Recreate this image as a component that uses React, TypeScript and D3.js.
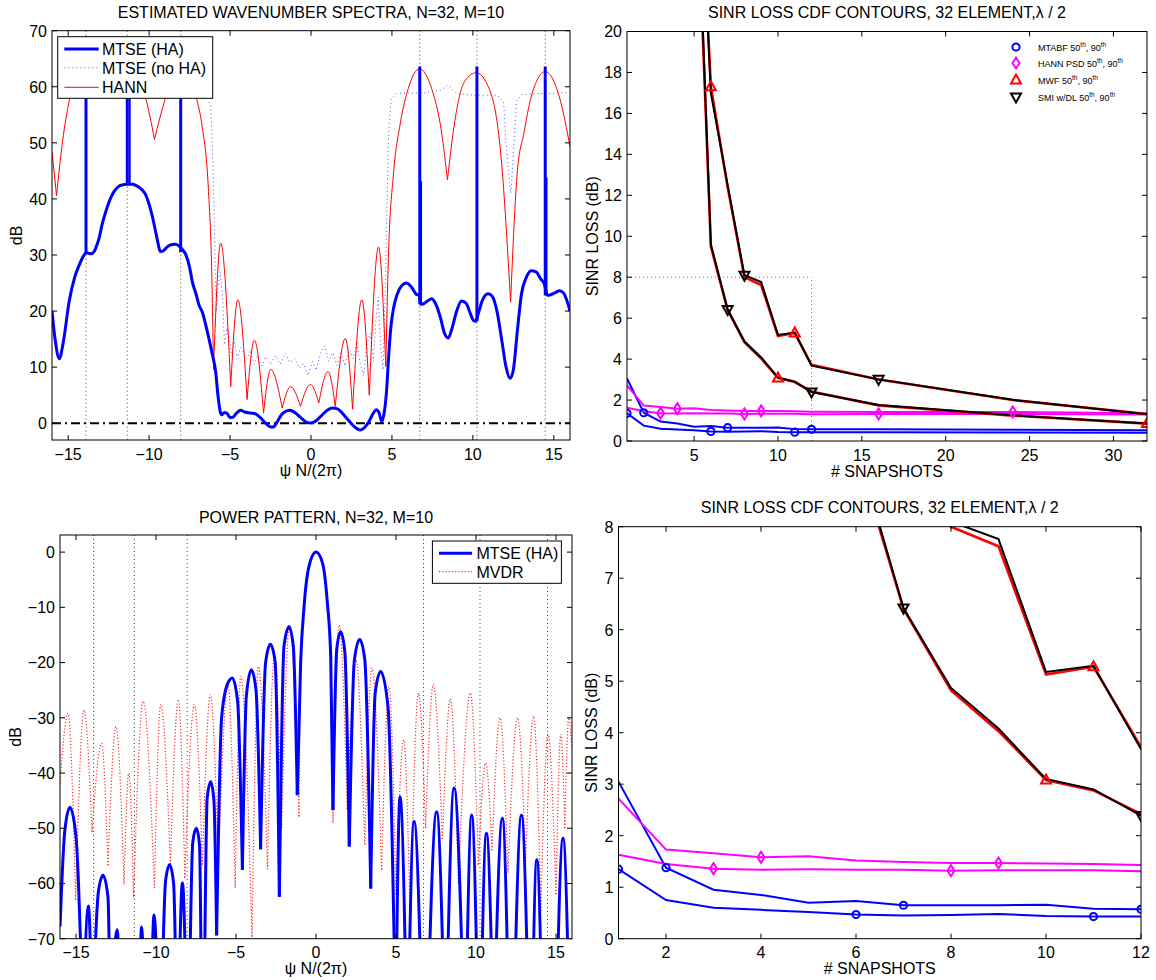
import React from "react";
import * as d3 from "d3";

type Pt = [number, number];

// ================= ESTIMATED WAVENUMBER SPECTRA =================
const spectrumMtseHA: Pt[] = [
  [-16, 20], [-15.8, 14.8], [-15.55, 11.5], [-15.3, 14.5], [-14.94, 21.7], [-14.6, 26.0],
  [-14.32, 28.2], [-14.1, 29.6], [-13.93, 30.3], [-13.85, 30.4], [-13.6, 30.2], [-13.4, 30.6],
  [-13.25, 31.6], [-13.09, 33.0], [-12.9, 35.5], [-12.68, 37.7], [-12.4, 40.0], [-12.17, 41.3],
  [-11.9, 42.2], [-11.65, 42.5], [-11.4, 42.6], [-11.0, 42.6], [-10.83, 42.4], [-10.5, 41.8],
  [-10.21, 40.7], [-10.0, 39.0], [-9.8, 36.9], [-9.55, 33.5], [-9.29, 30.6], [-9.1, 30.8],
  [-8.9, 31.4], [-8.67, 31.8], [-8.4, 31.9], [-8.15, 31.6], [-7.95, 31.0], [-7.74, 30.1],
  [-7.5, 27.8], [-7.33, 25.2], [-7.1, 23.0], [-6.92, 21.1], [-6.7, 19.7], [-6.5, 17.5],
  [-6.3, 15.0], [-6.09, 12.2], [-5.89, 9.2], [-5.75, 5.0], [-5.6, 2.0], [-5.5, 1.5],
  [-5.35, 1.9], [-5.2, 1.8], [-5.0, 1.0], [-4.86, 1.0], [-4.6, 1.8], [-4.35, 2.3],
  [-4.1, 2.0], [-3.72, 1.8], [-3.4, 1.6], [-3.1, 0.9], [-2.8, 0.0], [-2.55, -0.6],
  [-2.35, -0.7], [-2.1, 0.2], [-1.8, 1.6], [-1.5, 2.2], [-1.3, 2.3], [-1.0, 1.9],
  [-0.6, 0.9], [-0.2, 0.1], [0.0, 0.05], [0.3, 0.4], [0.7, 1.5], [1.0, 2.3], [1.3, 2.7],
  [1.6, 2.6], [1.9, 1.9], [2.2, 0.9], [2.5, -0.1], [2.8, -0.9], [3.04, -1.2], [3.3, -0.8],
  [3.6, 0.4], [3.85, 1.8], [4.03, 2.4], [4.2, 1.9], [4.37, 0.3], [4.5, 1.5], [4.66, 5.5],
  [4.8, 12.0], [4.93, 17.0], [5.1, 20.5], [5.3, 22.8], [5.6, 24.5], [5.91, 25.0], [6.2, 24.3],
  [6.5, 23.0], [6.68, 22.8], [6.78, 21.2], [6.95, 21.3], [7.2, 21.8], [7.45, 22.2], [7.7, 21.3],
  [8.0, 18.8], [8.25, 16.0], [8.48, 15.2], [8.7, 16.8], [9.0, 20.0], [9.3, 21.8], [9.6, 21.3],
  [9.85, 19.5], [10.05, 18.3], [10.2, 18.2], [10.32, 19.4], [10.6, 22.0], [10.94, 23.1],
  [11.2, 22.6], [11.5, 19.8], [11.8, 14.5], [12.05, 10.0], [12.3, 8.0], [12.5, 9.5],
  [12.75, 16.5], [13.0, 23.0], [13.3, 26.0], [13.6, 27.2], [13.9, 27.0], [14.2, 25.7],
  [14.42, 24.8], [14.6, 22.8], [14.8, 22.9], [15.1, 23.3], [15.35, 23.6], [15.6, 23.2],
  [15.85, 21.5], [16.0, 20.0],
];
const spectrumSpikePsi = [-13.9, -11.35, -8.05, 6.72, 10.25, 14.47];
const spectrumSpikeBase = [30.3, 42.6, 30.5, 21.2, 18.2, 22.8];
const spectrumSpikeTop = [63.6, 63.6, 63.6, 63.6, 63.6, 63.6];
const spectrumSubSpikePsi = [-11.2, 6.8, 14.55];
const spectrumSubSpikeBase = [42.6, 21.2, 22.8];
const spectrumSubSpikeTop = [60, 43.2, 43.8];

const spectrumMtseNoHA: Pt[] = [
  [-16, 60.3], [-15.6, 60.0], [-14, 60.5], [-12, 60.0], [-10, 60.2], [-8, 60.0], [-6.6, 59.0],
  [-6.2, 56.7], [-6.1, 50], [-6.0, 40], [-5.92, 28], [-5.85, 20], [-5.75, 24], [-5.6, 27],
  [-5.45, 22], [-5.35, 14], [-5.2, 17], [-5.05, 15], [-4.9, 12], [-4.75, 15], [-4.55, 11.5],
  [-4.35, 13.5], [-4.15, 12.5], [-3.95, 11.5], [-3.75, 13], [-3.5, 10.5], [-3.3, 12],
  [-3.05, 10.2], [-2.8, 11.8], [-2.5, 10.5], [-2.2, 12.1], [-1.9, 10.5], [-1.6, 12.5],
  [-1.3, 10.8], [-1.0, 11.5], [-0.7, 9.8], [-0.45, 10.6], [-0.2, 8.5], [0.1, 11], [0.3, 9.4],
  [0.6, 12.5], [0.85, 13.8], [1.1, 11], [1.35, 12.6], [1.6, 10.3], [1.85, 12.8], [2.1, 10.2],
  [2.35, 13.5], [2.6, 11.5], [2.85, 14.2], [3.05, 10.5], [3.25, 8.5], [3.45, 14.0], [3.65, 16],
  [3.85, 11], [4.0, 18], [4.15, 22.5], [4.3, 14], [4.45, 9.5], [4.6, 25], [4.7, 40], [4.8, 52],
  [4.95, 57.8], [5.3, 58.8], [6, 58.9], [7, 58.9], [8, 59.4], [8.47, 60.3], [9.0, 58.8],
  [10, 58.5], [11.5, 58.5], [11.9, 57.3], [12.05, 50], [12.2, 45], [12.35, 41], [12.5, 48],
  [12.7, 57.5], [13.0, 58.6], [14, 58.8], [15, 58.8], [16, 59.0],
];

const spectrumHann: Pt[] = [
  [-16, 48.4], [-15.72, 40.6], [-15.35, 50.2], [-14.94, 57.4], [-14.45, 61.8], [-13.9, 63.0],
  [-13.3, 61.6], [-12.6, 59.8], [-11.95, 62.2], [-11.35, 63.0], [-10.8, 61.6], [-10.21, 57.9],
  [-9.67, 50.6], [-9.0, 57.9], [-8.5, 62.0], [-8.05, 63.0], [-7.5, 61.5], [-7.05, 57.7],
  [-6.74, 53.2], [-6.33, 41.3], [-6.15, 29.0], [-6.02, 9.6], [-5.58, 32.1], [-4.96, 6.5],
  [-4.52, 22.0], [-3.95, 4.2], [-3.5, 14.8], [-2.93, 1.8], [-2.49, 9.6], [-1.78, 2.7],
  [-1.26, 6.5], [-0.65, 3.0], [-0.03, 6.9], [0.48, 3.6], [1.05, 9.2], [1.5, 3.0], [2.12, 15.1],
  [2.57, 2.5], [3.14, 22.0], [3.6, 5.0], [4.17, 31.4], [4.62, 10.1], [4.78, 29.4], [5.09, 44.3],
  [5.5, 53.2], [6.01, 59.7], [6.7, 63.2], [7.45, 59.7], [8.06, 52.0], [8.43, 43.4], [8.88, 53.8],
  [9.5, 61.0], [10.21, 62.5], [11.14, 58.6], [11.75, 47.2], [12.33, 21.6], [12.75, 45.0],
  [13.15, 51.7], [13.6, 58.2], [14.47, 62.7], [15.4, 57.6], [16.0, 49.3],
];

const interfererPsi = [-13.9, -11.35, -8.05, 6.72, 10.25, 14.47];
const noiseFloorDb = 0;
const spectrumLegend = ["MTSE (HA)", "MTSE (no HA)", "HANN"];

// ================= POWER PATTERN =================
const patternMtseHA: Pt[] = [
  [-16, -67.8], [-15.7, -50.5], [-15.38, -46.2], [-15.0, -51.5], [-14.56, -86],
  [-14.23, -64.1], [-13.98, -86],
  [-13.6, -61.5], [-13.31, -58.5], [-13.0, -62.5], [-12.86, -86],
  [-12.42, -68.4], [-12.24, -86],
  [-11.65, -76], [-11.07, -86],
  [-10.9, -67.9], [-10.71, -86],
  [-10.52, -78], [-10.33, -86],
  [-10.12, -65.7], [-9.85, -86],
  [-9.76, -80], [-9.67, -86],
  [-9.4, -59.5], [-9.15, -56.6], [-8.9, -60], [-8.71, -86],
  [-8.65, -80], [-8.6, -86],
  [-8.35, -59.9], [-8.08, -86],
  [-8.01, -80], [-7.94, -86],
  [-7.7, -52.5], [-7.48, -50], [-7.28, -53], [-7.15, -86],
  [-7.08, -80], [-7.0, -86],
  [-6.8, -44.5], [-6.58, -41.6], [-6.38, -45], [-6.21, -69.4],
  [-5.9, -30], [-5.55, -24], [-5.23, -22.8], [-4.9, -27], [-4.6, -57.5],
  [-4.35, -26], [-4.04, -21.3], [-3.75, -25], [-3.46, -53.8],
  [-3.15, -20], [-2.85, -16.7], [-2.55, -20], [-2.29, -62.4],
  [-2.0, -17], [-1.69, -13.5], [-1.42, -17], [-1.17, -44],
  [-0.96, -20], [-0.75, -10], [-0.44, -2.6], [0, 0], [0.4, -1.9], [0.71, -9.2], [0.92, -19],
  [1.06, -46.7],
  [1.3, -17.5], [1.54, -14.4], [1.8, -18], [2.08, -53.3],
  [2.4, -19.5], [2.73, -15.8], [3.05, -19.5], [3.42, -60.9],
  [3.7, -25.5], [4.04, -21.6], [4.5, -28], [4.98, -86],
  [5.25, -44.3], [5.67, -86],
  [5.71, -80], [5.75, -86],
  [6.13, -48.8], [6.64, -86],
  [6.8, -80], [6.96, -86],
  [7.54, -47], [8.04, -86],
  [8.09, -80], [8.14, -86],
  [8.63, -42.7], [9.25, -86],
  [9.3, -80], [9.36, -86],
  [9.73, -47.6], [10.13, -86],
  [10.21, -80], [10.29, -86],
  [10.65, -50.9], [11.08, -86],
  [11.1, -80], [11.13, -86],
  [11.65, -48.2], [12.06, -86],
  [12.2, -80], [12.35, -86],
  [12.84, -47.6], [13.3, -86],
  [13.4, -80], [13.5, -86],
  [13.8, -55.7], [14.15, -86],
  [14.6, -76], [15.0, -86],
  [15.44, -51.8], [15.85, -86],
  [16.0, -74],
];

const patternMvdr: Pt[] = [
  [-16, -42], [-15.5, -29.2], [-15.02, -63], [-14.5, -28.6], [-14.0, -50.7], [-13.4, -34.6],
  [-13.0, -56.7], [-12.5, -31.6], [-12.0, -60.2], [-11.7, -40], [-11.4, -62.6], [-10.8, -27],
  [-10.1, -60.8], [-9.7, -27.6], [-9.1, -56.6], [-8.6, -26.7], [-8.2, -59], [-7.6, -27.6],
  [-7.1, -56.6], [-6.6, -25.8], [-6.1, -56.6], [-5.5, -24], [-5.05, -60.8], [-4.7, -22.5],
  [-4.0, -69.7], [-3.6, -20.7], [-3.03, -57.4], [-2.6, -18.5], [-2.15, -50], [-1.65, -13.2],
  [-1.06, -47.9], [-0.96, -21], [-0.75, -10.5], [-0.44, -2.8], [0, 0], [0.4, -2.0],
  [0.71, -9.5], [0.95, -22], [1.06, -49], [1.45, -13.2], [1.95, -46.5], [2.5, -19.5],
  [3.05, -53], [3.5, -21], [4.1, -57.5], [4.56, -24.3], [5.0, -62], [5.48, -34], [5.9, -68],
  [6.4, -25.5], [6.85, -50], [7.33, -24], [7.9, -52], [8.4, -26.6], [8.9, -60], [9.65, -25.5],
  [10.15, -56.6], [10.6, -38.2], [11.0, -54], [11.5, -30], [12.0, -58], [12.6, -30],
  [13.1, -56], [13.6, -29.7], [14.05, -65], [14.5, -33], [15.0, -62], [15.3, -33],
  [15.55, -50], [15.8, -30], [16, -36],
];
const patternLegend = ["MTSE (HA)", "MVDR"];

// ================= SINR LOSS CDF CONTOURS =================
const snapshots = [1, 2, 3, 4, 5, 6, 7, 8, 9, 10, 11, 12, 16, 24, 32];
const mtabf50 = [1.35, 0.75, 0.6, 0.56, 0.52, 0.47, 0.45, 0.46, 0.48, 0.44, 0.43, 0.43, 0.43, 0.42, 0.4];
const mtabf90 = [3.05, 1.38, 0.95, 0.85, 0.7, 0.73, 0.65, 0.65, 0.65, 0.66, 0.58, 0.57, 0.57, 0.55, 0.52];
const hann50 = [1.63, 1.45, 1.36, 1.34, 1.35, 1.34, 1.34, 1.32, 1.33, 1.33, 1.33, 1.31, 1.32, 1.32, 1.3];
const hann90 = [2.72, 1.73, 1.66, 1.58, 1.6, 1.52, 1.49, 1.47, 1.47, 1.46, 1.45, 1.43, 1.42, 1.42, 1.36];
const adaptiveSnapshots = [5, 6, 7, 8, 9, 10, 11, 12, 16, 24, 32];
const mwf50 = [31, 9.5, 6.4, 4.82, 4.03, 3.08, 2.88, 2.42, 1.74, 1.24, 0.85];
const smi50 = [31.5, 9.6, 6.42, 4.87, 4.08, 3.1, 2.9, 2.39, 1.76, 1.26, 0.86];
const mwf90 = [34, 17.3, 12.4, 8.0, 7.62, 5.13, 5.28, 3.72, 3.0, 2.0, 1.32];
const smi90 = [34.5, 17.0, 12.5, 8.1, 7.76, 5.18, 5.3, 3.68, 3.01, 2.01, 1.31];
const mtabf50Marks = [1, 6, 11];
const mtabf90Marks = [2, 7, 12];
const hann50Marks = [3, 8, 16];
const hann90Marks = [4, 9, 24];
const mwf50Marks = [5, 10, 32];
const mwf90Marks = [6, 11];
const smi50Marks = [7, 12];
const smi90Marks = [8, 16];
const zoomBoxSnap = 12;
const zoomBoxLoss = 8;
const sinrLegend = ["MTABF", "HANN PSD", "MWF", "SMI w/DL"];

// ticks
const psiTicks = [-15, -10, -5, 0, 5, 10, 15];
const spectrumDbTicks = [0, 10, 20, 30, 40, 50, 60, 70];
const patternDbTicks = [-70, -60, -50, -40, -30, -20, -10, 0];
const snapTicksWide = [5, 10, 15, 20, 25, 30];
const lossTicksWide = [0, 2, 4, 6, 8, 10, 12, 14, 16, 18, 20];
const snapTicksZoom = [2, 4, 6, 8, 10, 12];
const lossTicksZoom = [0, 1, 2, 3, 4, 5, 6, 7, 8];

// ================= layout / style =================
const FONT = "'Liberation Sans', Arial, Helvetica, sans-serif";
const BLUE = "#0000ff";
const RED = "#ff0000";
const MAG = "#ff00ff";
const MVDR_RED = "#ff2a2a";
type Box = { l: number; r: number; t: number; b: number };
const P1: Box = { l: 52, r: 570, t: 30.7, b: 440 };
const P2: Box = { l: 627, r: 1147, t: 31.5, b: 441 };
const P3: Box = { l: 60, r: 572, t: 535, b: 938.7 };
const P4: Box = { l: 618.5, r: 1141, t: 526.7, b: 938.7 };

const fmt = (v: number) => (v < 0 ? "\u2212" + Math.abs(v) : String(v));

function lobes(pts: Pt[]): Pt[][] {
  const segs: Pt[][] = [];
  let cur: Pt[] = [pts[0]];
  for (let i = 1; i < pts.length; i++) {
    cur.push(pts[i]);
    const isNull = i < pts.length - 1 && pts[i][1] < pts[i - 1][1] && pts[i][1] < pts[i + 1][1];
    if (isNull) {
      segs.push(cur);
      cur = [pts[i]];
    }
  }
  segs.push(cur);
  return segs;
}

function Frame(props: {
  id: string; p: Box; sx: any; sy: any; xt: number[]; yt: number[];
  title: string; titleY: number; xlabel: string; ylabel: string; ylabelX: number; children?: any;
}) {
  const { id, p, sx, sy, xt, yt } = props;
  const tl = 5;
  return (
    <g>
      <defs>
        <clipPath id={id}>
          <rect x={p.l} y={p.t} width={p.r - p.l} height={p.b - p.t} />
        </clipPath>
      </defs>
      <rect x={p.l} y={p.t} width={p.r - p.l} height={p.b - p.t} fill="#fff" />
      <g clipPath={`url(#${id})`}>{props.children}</g>
      <rect x={p.l} y={p.t} width={p.r - p.l} height={p.b - p.t} fill="none" stroke="#000" strokeWidth={1} />
      {xt.map((v) => (
        <g key={"x" + v}>
          <line x1={sx(v)} x2={sx(v)} y1={p.b} y2={p.b - tl} stroke="#000" />
          <line x1={sx(v)} x2={sx(v)} y1={p.t} y2={p.t + tl} stroke="#000" />
          <text x={sx(v)} y={p.b + 19.5} textAnchor="middle" fontSize={16} fontFamily={FONT}>{fmt(v)}</text>
        </g>
      ))}
      {yt.map((v) => (
        <g key={"y" + v}>
          <line x1={p.l} x2={p.l + tl} y1={sy(v)} y2={sy(v)} stroke="#000" />
          <line x1={p.r} x2={p.r - tl} y1={sy(v)} y2={sy(v)} stroke="#000" />
          <text x={p.l - 5} y={sy(v) + 5.8} textAnchor="end" fontSize={16} fontFamily={FONT}>{fmt(v)}</text>
        </g>
      ))}
      <text x={(p.l + p.r) / 2} y={props.titleY} textAnchor="middle" fontSize={16} fontFamily={FONT}>{props.title}</text>
      <text x={(p.l + p.r) / 2} y={p.b + 35.5} textAnchor="middle" fontSize={16} fontFamily={FONT}>{props.xlabel}</text>
      <text transform={`translate(${props.ylabelX},${(p.t + p.b) / 2}) rotate(-90)`} dy="0.35em" textAnchor="middle" fontSize={16} fontFamily={FONT}>{props.ylabel}</text>
    </g>
  );
}

function Marker({ kind, x, y, color }: { kind: string; x: number; y: number; color: string }) {
  const common = { fill: "none", stroke: color, strokeWidth: 2 };
  if (kind === "o") return <circle cx={x} cy={y} r={3.6} {...common} />;
  if (kind === "d") return <path d={`M${x},${y - 5.5}L${x + 3.5},${y}L${x},${y + 5.5}L${x - 3.5},${y}Z`} {...common} />;
  if (kind === "^") return <path d={`M${x},${y - 5.5}L${x + 5},${y + 3.5}L${x - 5},${y + 3.5}Z`} {...common} />;
  return <path d={`M${x},${y + 5.5}L${x + 5},${y - 3.5}L${x - 5},${y - 3.5}Z`} {...common} />;
}

function SinrContent({ sx, sy, showBox }: { sx: any; sy: any; showBox: boolean }) {
  const ln = d3.line<Pt>().x((d) => sx(d[0])).y((d) => sy(d[1]));
  const zip = (xs: number[], ys: number[]): Pt[] => xs.map((x, i) => [x, ys[i]]);
  const marks = (xs: number[], ys: number[], at: number[], kind: string, color: string, key: string) =>
    at.map((m) => {
      const i = xs.indexOf(m);
      return <Marker key={key + m} kind={kind} x={sx(m)} y={sy(ys[i])} color={color} />;
    });
  return (
    <g>
      {showBox && (
        <g stroke="#777" strokeWidth={1} strokeDasharray="1,3" fill="none">
          <line x1={sx(1)} x2={sx(zoomBoxSnap)} y1={sy(zoomBoxLoss)} y2={sy(zoomBoxLoss)} />
          <line x1={sx(zoomBoxSnap)} x2={sx(zoomBoxSnap)} y1={sy(0)} y2={sy(zoomBoxLoss)} />
        </g>
      )}
      <path d={ln(zip(snapshots, mtabf90))!} fill="none" stroke={BLUE} strokeWidth={2} />
      <path d={ln(zip(snapshots, mtabf50))!} fill="none" stroke={BLUE} strokeWidth={2} />
      <path d={ln(zip(snapshots, hann90))!} fill="none" stroke={MAG} strokeWidth={2} />
      <path d={ln(zip(snapshots, hann50))!} fill="none" stroke={MAG} strokeWidth={2} />
      <path d={ln(zip(adaptiveSnapshots, mwf90))!} fill="none" stroke={RED} strokeWidth={2.6} />
      <path d={ln(zip(adaptiveSnapshots, mwf50))!} fill="none" stroke={RED} strokeWidth={2.6} />
      <path d={ln(zip(adaptiveSnapshots, smi90))!} fill="none" stroke="#000" strokeWidth={2} />
      <path d={ln(zip(adaptiveSnapshots, smi50))!} fill="none" stroke="#000" strokeWidth={2} />
      {marks(snapshots, mtabf50, mtabf50Marks, "o", BLUE, "a")}
      {marks(snapshots, mtabf90, mtabf90Marks, "o", BLUE, "b")}
      {marks(snapshots, hann50, hann50Marks, "d", MAG, "c")}
      {marks(snapshots, hann90, hann90Marks, "d", MAG, "e")}
      {marks(adaptiveSnapshots, mwf50, mwf50Marks, "^", RED, "f")}
      {marks(adaptiveSnapshots, mwf90, mwf90Marks, "^", RED, "g")}
      {marks(adaptiveSnapshots, smi50, smi50Marks, "v", "#000", "h")}
      {marks(adaptiveSnapshots, smi90, smi90Marks, "v", "#000", "i")}
    </g>
  );
}

export default function App() {
  const sx1 = d3.scaleLinear().domain([-16, 16]).range([P1.l, P1.r]);
  const sy1 = d3.scaleLinear().domain([-3, 70]).range([P1.b, P1.t]);
  const sx2 = d3.scaleLinear().domain([1, 32]).range([P2.l, P2.r]);
  const sy2 = d3.scaleLinear().domain([0, 20]).range([P2.b, P2.t]);
  const sx3 = d3.scaleLinear().domain([-16, 16]).range([P3.l, P3.r]);
  const sy3 = d3.scaleLinear().domain([-70, 3.1]).range([P3.b, P3.t]);
  const sx4 = d3.scaleLinear().domain([1, 12]).range([P4.l, P4.r]);
  const sy4 = d3.scaleLinear().domain([0, 8]).range([P4.b, P4.t]);

  const smooth1 = d3.line<Pt>().x((d) => sx1(d[0])).y((d) => sy1(d[1])).curve(d3.curveMonotoneX);
  const lin1 = d3.line<Pt>().x((d) => sx1(d[0])).y((d) => sy1(d[1]));
  const smooth3 = d3.line<Pt>().x((d) => sx3(d[0])).y((d) => sy3(d[1])).curve(d3.curveMonotoneX);

  const supT = (label: string) => (
    <>
      <tspan>{label} 50</tspan>
      <tspan dy={-4} fontSize={6.5}>th</tspan>
      <tspan dy={4}>, 90</tspan>
      <tspan dy={-4} fontSize={6.5}>th</tspan>
    </>
  );
  const sinrLegendKinds = [["o", BLUE], ["d", MAG], ["^", RED], ["v", "#000"]];
  const sinrLegendRows = [47, 63, 80, 97];

  return (
    <svg width={1156} height={980} style={{ position: "absolute", left: 0, top: 0, display: "block", background: "#fff" }}>
      <rect x={0} y={0} width={1156} height={980} fill="#fff" />

      {/* ---------- top-left ---------- */}
      <Frame id="c1" p={P1} sx={sx1} sy={sy1} xt={psiTicks} yt={spectrumDbTicks}
        title="ESTIMATED WAVENUMBER SPECTRA, N=32, M=10" titleY={18.3}
        xlabel="ψ N/(2π)" ylabel="dB" ylabelX={16.5}>
        {interfererPsi.map((v) => (
          <line key={v} x1={sx1(v)} x2={sx1(v)} y1={P1.t} y2={P1.b} stroke="#444" strokeWidth={1} strokeDasharray="1,3" />
        ))}
        <line x1={P1.l} x2={P1.r} y1={sy1(noiseFloorDb)} y2={sy1(noiseFloorDb)} stroke="#000" strokeWidth={2} strokeDasharray="9,4,2,4" />
        <path d={lin1(spectrumMtseNoHA)!} fill="none" stroke="#5555ff" strokeWidth={1} strokeDasharray="1,3" />
        {lobes(spectrumHann).map((s, i) => (
          <path key={i} d={smooth1(s)!} fill="none" stroke={RED} strokeWidth={1} />
        ))}
        <path d={smooth1(spectrumMtseHA)!} fill="none" stroke={BLUE} strokeWidth={3} />
        {spectrumSpikePsi.map((v, i) => (
          <line key={"s" + v} x1={sx1(v)} x2={sx1(v)} y1={sy1(spectrumSpikeBase[i])} y2={sy1(spectrumSpikeTop[i])} stroke={BLUE} strokeWidth={3} />
        ))}
        {spectrumSubSpikePsi.map((v, i) => (
          <line key={"ss" + v} x1={sx1(v)} x2={sx1(v)} y1={sy1(spectrumSubSpikeBase[i])} y2={sy1(spectrumSubSpikeTop[i])} stroke={BLUE} strokeWidth={2} />
        ))}
      </Frame>
      {/* legend top-left */}
      <g fontFamily={FONT} fontSize={16}>
        <rect x={57.7} y={36.7} width={155} height={61.6} fill="#fff" stroke="#000" strokeWidth={1} />
        <line x1={64.3} x2={98.7} y1={49} y2={49} stroke={BLUE} strokeWidth={3} />
        <text x={102} y={54.8}>{spectrumLegend[0]}</text>
        <line x1={64.3} x2={98.7} y1={67.7} y2={67.7} stroke="#5555ff" strokeWidth={1} strokeDasharray="1,3" />
        <text x={102} y={73.5}>{spectrumLegend[1]}</text>
        <line x1={64.3} x2={98.7} y1={87.3} y2={87.3} stroke={RED} strokeWidth={1} />
        <text x={102} y={93.1}>{spectrumLegend[2]}</text>
      </g>

      {/* ---------- top-right ---------- */}
      <Frame id="c2" p={P2} sx={sx2} sy={sy2} xt={snapTicksWide} yt={lossTicksWide}
        title="SINR LOSS CDF CONTOURS, 32 ELEMENT,λ / 2" titleY={18.3}
        xlabel="# SNAPSHOTS" ylabel="SINR LOSS (dB)" ylabelX={592}>
        <SinrContent sx={sx2} sy={sy2} showBox={true} />
      </Frame>
      <g fontFamily={FONT} fontSize={9}>
        {sinrLegend.map((lab, i) => (
          <g key={lab}>
            <Marker kind={sinrLegendKinds[i][0]} x={1016} y={sinrLegendRows[i]} color={sinrLegendKinds[i][1]} />
            <text x={1038} y={sinrLegendRows[i] + 3.5}>{supT(lab)}</text>
          </g>
        ))}
      </g>

      {/* ---------- bottom-left ---------- */}
      <Frame id="c3" p={P3} sx={sx3} sy={sy3} xt={psiTicks} yt={patternDbTicks}
        title="POWER PATTERN, N=32, M=10" titleY={523.3}
        xlabel="ψ N/(2π)" ylabel="dB" ylabelX={15}>
        {interfererPsi.map((v) => (
          <line key={v} x1={sx3(v)} x2={sx3(v)} y1={P3.t} y2={P3.b} stroke="#444" strokeWidth={1} strokeDasharray="1,3" />
        ))}
        {lobes(patternMvdr).map((s, i) => (
          <path key={"m" + i} d={smooth3(s)!} fill="none" stroke={MVDR_RED} strokeWidth={1.2} strokeDasharray="1.2,2" />
        ))}
        {lobes(patternMtseHA).map((s, i) => (
          <path key={"h" + i} d={smooth3(s)!} fill="none" stroke={BLUE} strokeWidth={3} />
        ))}
      </Frame>
      <g fontFamily={FONT} fontSize={16}>
        <rect x={432.4} y={541} width={129} height={42.3} fill="#fff" stroke="#000" strokeWidth={1} />
        <line x1={439} x2={472} y1={553.3} y2={553.3} stroke={BLUE} strokeWidth={3} />
        <text x={476.5} y={559.1}>{patternLegend[0]}</text>
        <line x1={439} x2={472} y1={571.7} y2={571.7} stroke={MVDR_RED} strokeWidth={1.2} strokeDasharray="1.2,2" />
        <text x={476.5} y={577.5}>{patternLegend[1]}</text>
      </g>

      {/* ---------- bottom-right ---------- */}
      <Frame id="c4" p={P4} sx={sx4} sy={sy4} xt={snapTicksZoom} yt={lossTicksZoom}
        title="SINR LOSS CDF CONTOURS, 32 ELEMENT,λ / 2" titleY={513.3}
        xlabel="# SNAPSHOTS" ylabel="SINR LOSS (dB)" ylabelX={591}>
        <SinrContent sx={sx4} sy={sy4} showBox={false} />
      </Frame>
    </svg>
  );
}
